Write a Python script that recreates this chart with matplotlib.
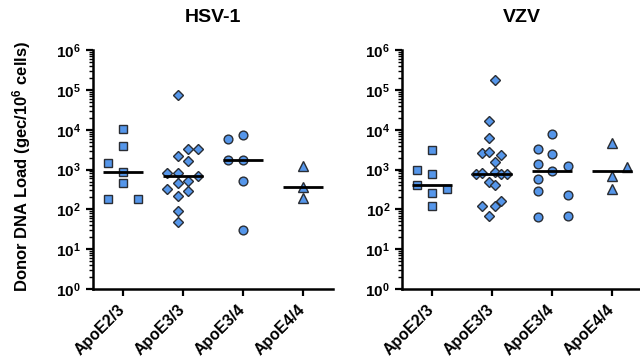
import numpy as np
import matplotlib
matplotlib.use("Agg")
import matplotlib.pyplot as plt
from matplotlib.ticker import LogLocator, NullFormatter
from matplotlib.transforms import ScaledTranslation

plt.rcParams["font.family"] = ["Liberation Sans", "DejaVu Sans"]
plt.rcParams["font.weight"] = "bold"
plt.rcParams["mathtext.fontset"] = "custom"
plt.rcParams["mathtext.rm"] = "Liberation Sans:bold"
plt.rcParams["mathtext.bf"] = "Liberation Sans:bold"
plt.rcParams["mathtext.default"] = "bf"

genotypes = ["ApoE2/3", "ApoE3/3", "ApoE3/4", "ApoE4/4"]
panel_titles = ["HSV-1", "VZV"]
marker_shapes = ["s", "D", "o", "^"]

# HSV-1 donor loads (gec / 10^6 cells)
hsv_e23 = [1500, 10200, 4000, 890, 450, 178, 178]
hsv_e33 = [75000, 2180, 3250, 3250, 1630, 800, 800, 690, 515, 450, 318, 283, 215, 93, 47]
hsv_e34 = [6000, 7200, 1700, 1700, 515, 30]
hsv_e44 = [1250, 370, 190]

# VZV donor loads
vzv_e23 = [3030, 990, 770, 415, 265, 323, 123]
vzv_e33 = [182000, 16300, 6200, 2600, 2750, 2280, 1590, 780, 810, 850, 780, 780,
           475, 408, 123, 123, 158, 70]
vzv_e34 = [7900, 3300, 2500, 1410, 910, 1200, 590, 283, 224, 63, 70]
vzv_e44 = [4650, 1150, 675, 322]

# horizontal scatter of points within each column (category units)
hsv_e23_dx = [-0.25, 0, 0, 0, 0, -0.25, 0.26]
hsv_e33_dx = [-0.08, -0.08, 0.09, 0.26, 0.09, -0.26, -0.08, 0.26, 0.09, -0.08, -0.26, 0.09, -0.08, -0.08, -0.08]
hsv_e34_dx = [-0.25, 0, -0.25, 0, 0, 0]
hsv_e44_dx = [0, 0, 0]
vzv_e23_dx = [0, -0.25, 0, -0.25, 0, 0.25, 0]
vzv_e33_dx = [0.045, -0.055, -0.055, -0.16, -0.055, 0.155, 0.045, -0.27, -0.16, 0.045, 0.155, 0.25,
              -0.055, 0.045, -0.16, 0.045, 0.155, -0.055]
vzv_e34_dx = [0, -0.24, 0, -0.24, 0, 0.26, -0.24, -0.24, 0.26, -0.24, 0.26]
vzv_e44_dx = [0, 0.245, 0, 0]

panels = [
    ([hsv_e23, hsv_e33, hsv_e34, hsv_e44], [hsv_e23_dx, hsv_e33_dx, hsv_e34_dx, hsv_e44_dx]),
    ([vzv_e23, vzv_e33, vzv_e34, vzv_e44], [vzv_e23_dx, vzv_e33_dx, vzv_e34_dx, vzv_e44_dx]),
]

fill = "#5596ea"
edge = "#2a2d33"
msizes = {"s": 5.8, "D": 4.8, "o": 6.3, "^": 6.8}

fig = plt.figure(figsize=(6.4, 3.6), dpi=100)
ax_left = fig.add_axes([0.145, 0.197, 0.375, 0.664])
ax_right = fig.add_axes([0.628, 0.197, 0.375, 0.664])

# nudge rotated category labels a little right and down
label_shift = ScaledTranslation(4 / 100, -3 / 100, fig.dpi_scale_trans)

for ax, title, (groups, offsets) in zip([ax_left, ax_right], panel_titles, panels):
    for i, (vals, dx, m) in enumerate(zip(groups, offsets, marker_shapes)):
        ax.plot(i + np.array(dx), vals, linestyle="none", marker=m,
                markersize=msizes[m], markerfacecolor=fill,
                markeredgecolor=edge, markeredgewidth=1.0, zorder=3)
        med = np.median(vals)
        ax.hlines(med, i - 0.33, i + 0.33, color="black", linewidth=2, zorder=4)

    ax.set_yscale("log")
    ax.set_ylim(1, 1e6)
    ax.set_xlim(-0.5, 3.5)
    ax.yaxis.set_major_locator(LogLocator(base=10, numticks=10))
    ax.yaxis.set_minor_locator(LogLocator(base=10, subs=np.arange(2, 10), numticks=10))
    ax.yaxis.set_minor_formatter(NullFormatter())
    ax.set_xticks(range(len(genotypes)))
    ax.set_xticklabels(genotypes, rotation=45, ha="right", va="center",
                       rotation_mode="anchor", fontsize=11.5, fontweight="bold")
    for lab in ax.get_xticklabels():
        lab.set_transform(lab.get_transform() + label_shift)
    ax.tick_params(axis="x", length=5, width=1.6, pad=8)
    ax.tick_params(axis="y", which="major", length=5, width=1.6, labelsize=11)
    ax.tick_params(axis="y", which="minor", length=3, width=1.0)
    ax.spines["top"].set_visible(False)
    ax.spines["right"].set_visible(False)
    ax.spines["left"].set_linewidth(1.8)
    ax.spines["bottom"].set_linewidth(1.8)
    ax.set_title(title, fontsize=14, fontweight="bold", pad=20)

ax_left.set_ylabel("Donor DNA Load (gec/10$^6$ cells)", fontsize=12,
                   fontweight="bold")
ax_left.yaxis.set_label_coords(-0.25, 0.515)

fig.savefig("out.png", dpi=100)
